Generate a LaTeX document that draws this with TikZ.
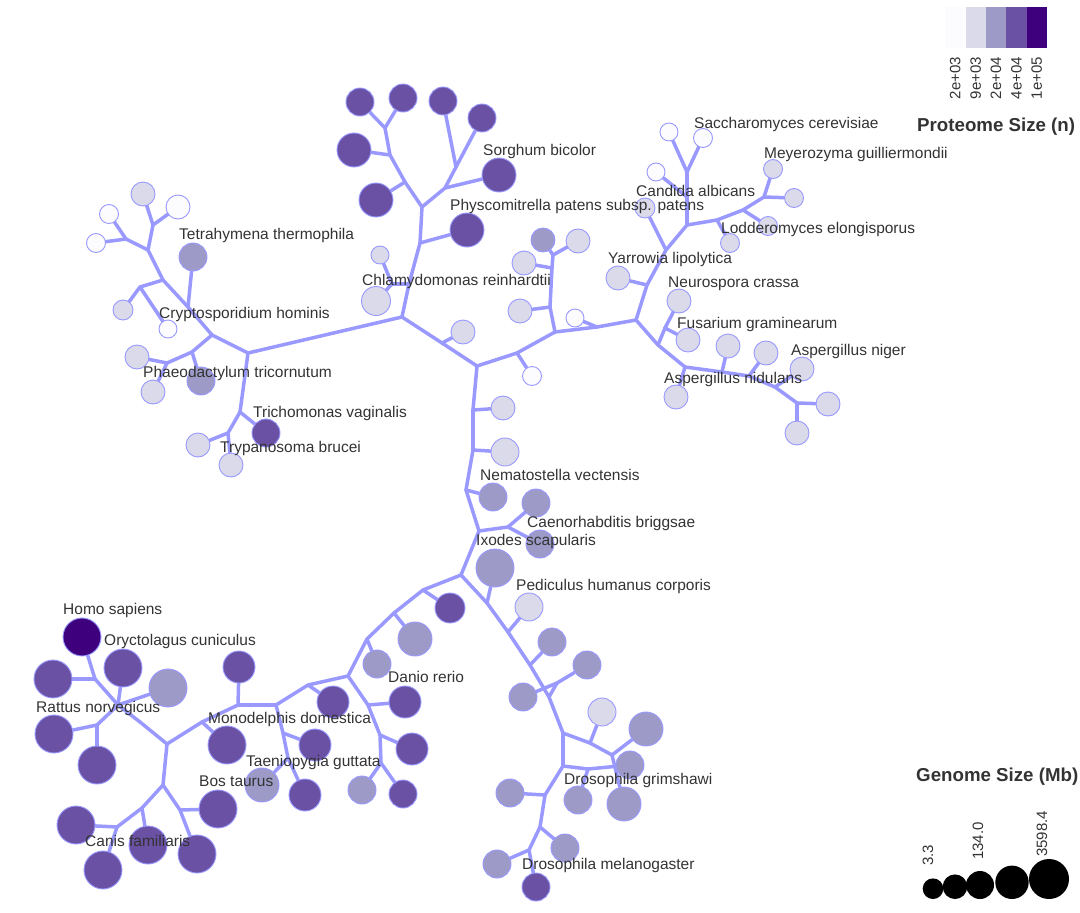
\documentclass[tikz,border=0pt]{standalone}
\usepackage{fontspec}
\setmainfont{Liberation Sans}
\usetikzlibrary{backgrounds}
\definecolor{ed}{HTML}{9999FF}
\definecolor{p1}{HTML}{FCFBFD}
\definecolor{p2}{HTML}{DADAEB}
\definecolor{p3}{HTML}{9E9AC8}
\definecolor{p4}{HTML}{6A51A3}
\definecolor{p5}{HTML}{3F007D}
\definecolor{tx}{HTML}{333333}
\tikzset{
  lf/.style={circle,draw=ed,line width=0.9pt,inner sep=0pt},
  br/.style={draw=ed,line width=3.5pt,line cap=round,line join=round},
  lab/.style={anchor=base west,inner sep=0pt,text=tx,font=\fontsize{15.5}{18}\selectfont},
  ttl/.style={anchor=base west,inner sep=0pt,text=tx,font=\bfseries\fontsize{18.7}{22}\selectfont},
  tick/.style={inner sep=0pt,text=tx,rotate=90,font=\fontsize{15}{18}\selectfont},
  cell/.style={anchor=north west,inner sep=0pt,minimum width=20.4pt,minimum height=41pt},
  gc/.style={circle,fill=black,inner sep=0pt}
}
\newcommand\leaf[4]{\node[lf,fill=#4,minimum size=#3pt] (#1) at (#2) {};}
\begin{document}
\begin{tikzpicture}[x=1pt,y=-1pt]
\useasboundingbox (0,0) rectangle (1080,913);
% ---------- internal coordinates ----------
\foreach \n/\p in {a1/{126,239},a2/{153,225},a3/{148,250},a4/{163,280},a5/{140,287},a6/{188,307},
  a7/{212,335},a8/{192,352},a9/{167,363},B/{248,353},b1/{240,412},b2/{228,433},
  C/{402,317},c9/{409,284},c8/{392,284},c1/{420,243},c2/{422,207},c3/{405,182},c4/{390,155},
  c6/{385,128},c5/{445,188},c7/{456,167},
  d0/{442,343},D/{477,366},d1/{517,353},d2/{555,332},d3/{550,307},d4b/{552,268},d4/{553,255},d5/{597,327},
  E/{636,320},e1/{647,285},e2/{666,250},e3/{687,225},e4/{687,197},e5/{687,172},f1/{717,220},f2/{743,210},
  f3/{764,197},e6/{658,345},e7/{665,328},g1/{685,367},g2/{722,372},g3/{749,376},g4/{775,387},g5/{797,403},
  t1/{473,410},t2/{473,450},t3/{466,490},t4/{479,531},t5/{508,527},G/{461,575},
  k1/{487,603},k2/{508,632},k3/{530,665},k4/{549,697},k5/{557,683},I/{563,733},i1/{590,743},i2/{612,755},
  J/{563,766},K/{588,769},j1/{545,795},j2/{540,827},j3/{529,850},
  h1/{423,590},h2/{394,613},h3/{367,639},M/{348,676},m1/{368,705},m2/{380,735},m4/{381,763},
  m3/{308,685},O/{276,705},o1/{283,733},o2/{288,758},P/{238,705},p1/{202,722},Q/{167,744},
  s0/{140,722},S/{118,705},T/{95,679},U/{97,725},V/{163,785},W/{142,808},X/{117,827},Y/{180,810}}
  {\coordinate (\n) at (\p);}
% ---------- leaves ----------
\leaf{tl1}{143,194}{24}{p2}
\leaf{tl2}{178,207}{24}{p1}
\leaf{tl3}{109,214}{19}{p1}
\leaf{tl4}{96,243}{19}{p1}
\leaf{tl5}{123,310}{20}{p2}
\leaf{tl6}{168,329}{18}{p1}
\leaf{tetra}{193,257}{28}{p3}
\leaf{tl8}{137,357}{24}{p2}
\leaf{tl9}{153,392}{24}{p2}
\leaf{phaeo}{201,381}{28}{p3}
\leaf{trich}{266,433}{28}{p4}
\leaf{tl12}{198,445}{24}{p2}
\leaf{trypa}{231,465}{24}{p2}
\leaf{physco}{467,230}{34}{p4}
\leaf{tm2}{376,200}{34}{p4}
\leaf{tm3}{354,150}{34}{p4}
\leaf{tm4}{360,102}{28}{p4}
\leaf{tm5}{403,98}{28}{p4}
\leaf{sorg}{499,175}{34}{p4}
\leaf{tm7}{443,101}{28}{p4}
\leaf{tm8}{482,118}{28}{p4}
\leaf{tm9}{380,255}{18}{p2}
\leaf{chlamy}{376,301}{29}{p2}
\leaf{mr1}{463,332}{24}{p2}
\leaf{mr2}{532,376}{19}{p1}
\leaf{mr3}{520,311}{24}{p2}
\leaf{mr4}{543,240}{24}{p3}
\leaf{mr5}{578,241}{24}{p2}
\leaf{mr6}{524,263}{24}{p2}
\leaf{mr7}{575,318}{18}{p1}
\leaf{yarrow}{618,278}{24}{p2}
\leaf{tr2}{645,208}{20}{p2}
\leaf{candida}{656,172}{18}{p1}
\leaf{tr4}{669,132}{18}{p1}
\leaf{tr5}{703,138}{19}{p1}
\leaf{tr6}{730,243}{19}{p2}
\leaf{lodd}{768,226}{19}{p2}
\leaf{meyer}{773,169}{19}{p2}
\leaf{tr9}{794,198}{19}{p2}
\leaf{neuro}{679,301}{24}{p2}
\leaf{fusar}{688,340}{24}{p2}
\leaf{nidul}{676,397}{24}{p2}
\leaf{as2}{728,346}{24}{p2}
\leaf{as3}{766,353}{24}{p2}
\leaf{niger}{802,369}{24}{p2}
\leaf{as5}{828,404}{24}{p2}
\leaf{as6}{797,433}{24}{p2}
\leaf{k01}{503,408}{24}{p2}
\leaf{k02}{505,452}{28}{p2}
\leaf{nemat}{493,497}{28}{p3}
\leaf{caeno}{536,503}{28}{p3}
\leaf{k05}{540,544}{28}{p3}
\leaf{ixodes}{495,568}{38}{p3}
\leaf{pedic}{529,607}{28}{p2}
\leaf{br1}{552,642}{28}{p3}
\leaf{br2}{523,697}{28}{p3}
\leaf{br3}{587,665}{28}{p3}
\leaf{br4}{602,712}{28}{p2}
\leaf{br5}{646,729}{34}{p3}
\leaf{br6}{624,804}{34}{p3}
\leaf{br7}{578,800}{28}{p3}
\leaf{grims}{630,765}{28}{p3}
\leaf{br9}{510,793}{28}{p3}
\leaf{br10}{565,848}{28}{p3}
\leaf{br11}{497,864}{28}{p3}
\leaf{melan}{536,887}{28}{p4}
\leaf{bl1}{450,608}{30}{p4}
\leaf{bl2}{415,639}{34}{p3}
\leaf{bl3}{377,664}{28}{p3}
\leaf{danio}{405,702}{32}{p4}
\leaf{bl5}{412,749}{32}{p4}
\leaf{bl6}{362,790}{28}{p3}
\leaf{bl7}{403,794}{28}{p4}
\leaf{bl8}{333,702}{32}{p4}
\leaf{bl9}{315,745}{32}{p4}
\leaf{taeni}{262,785}{34}{p3}
\leaf{bl11}{305,795}{32}{p4}
\leaf{bl12}{239,667}{32}{p4}
\leaf{monod}{227,745}{38}{p4}
\leaf{homo}{82,637}{38}{p5}
\leaf{oryct}{123,668}{38}{p4}
\leaf{bl16}{168,688}{38}{p3}
\leaf{bl17}{53,679}{38}{p4}
\leaf{rattus}{54,734}{38}{p4}
\leaf{bl19}{97,765}{38}{p4}
\leaf{canis}{148,845}{38}{p4}
\leaf{bl21}{76,825}{38}{p4}
\leaf{bl22}{103,870}{38}{p4}
\leaf{bos}{218,809}{38}{p4}
\leaf{bl24}{197,854}{38}{p4}
% ---------- branches ----------
\begin{pgfonlayer}{background}
\foreach \u/\v in {a1/tl3,a1/tl4,a1/a3,a2/tl1,a2/tl2,a2/a3,a3/a4,a4/a5,a5/tl5,a5/tl6,a4/a6,a6/tetra,a6/a7,
  a7/a8,a8/phaeo,a8/a9,a9/tl8,a9/tl9,a7/B,B/C,B/b1,b1/trich,b1/b2,b2/tl12,b2/trypa,
  C/c9,c9/c8,c8/tm9,c8/chlamy,c9/c1,c1/physco,c1/c2,c2/c3,c3/tm2,c3/c4,c4/tm3,c4/c6,c6/tm4,c6/tm5,
  c2/c5,c5/sorg,c5/c7,c7/tm7,c7/tm8,
  C/d0,d0/mr1,d0/D,D/d1,d1/mr2,d1/d2,d2/d3,d3/mr3,d3/d4b,d4b/mr6,d4b/d4,d4/mr4,d4/mr5,d2/d5,d5/mr7,d5/E,
  E/e1,e1/yarrow,e1/e2,e2/tr2,e2/e3,e3/e4,e4/candida,e4/e5,e5/tr4,e5/tr5,e3/f1,f1/tr6,f1/f2,f2/lodd,
  f2/f3,f3/meyer,f3/tr9,E/e6,e6/e7,e7/neuro,e7/fusar,e6/g1,g1/nidul,g1/g2,g2/as2,g2/g3,g3/as3,g3/g4,
  g4/niger,g4/g5,g5/as5,g5/as6,
  D/t1,t1/k01,t1/t2,t2/k02,t2/t3,t3/nemat,t3/t4,t4/t5,t5/caeno,t5/k05,t4/G,
  G/k1,k1/ixodes,k1/k2,k2/pedic,k2/k3,k3/br1,k3/k4,k4/k5,k5/br2,k5/br3,k4/I,I/i1,i1/br4,i1/i2,
  i2/br5,i2/br6,I/J,J/K,K/br7,K/grims,J/j1,j1/br9,j1/j2,j2/br10,j2/j3,j3/br11,j3/melan,
  G/h1,h1/bl1,h1/h2,h2/bl2,h2/h3,h3/bl3,h3/M,M/m1,m1/danio,m1/m2,m2/bl5,m2/m4,m4/bl6,m4/bl7,
  M/m3,m3/bl8,m3/O,O/o1,o1/bl9,o1/o2,o2/taeni,o2/bl11,O/P,P/bl12,P/p1,p1/monod,p1/Q,Q/s0,s0/S,
  S/T,T/homo,T/bl17,S/oryct,S/bl16,S/U,U/rattus,U/bl19,Q/V,V/W,W/canis,W/X,X/bl21,X/bl22,
  V/Y,Y/bos,Y/bl24}
  {\draw[br] (\u) -- (\v);}
\end{pgfonlayer}
% ---------- labels ----------
\foreach \x/\y/\t [count=\i] in {179/234/Tetrahymena thermophila,159/313/Cryptosporidium hominis,
  143/372/Phaeodactylum tricornutum,253/412/Trichomonas vaginalis,220/447/Trypanosoma brucei,
  483/150/Sorghum bicolor,450/205/Physcomitrella patens subsp. patens,362/280/Chlamydomonas reinhardtii,
  694/123/Saccharomyces cerevisiae,764/153/Meyerozyma guilliermondii,636/191/Candida albicans,
  721/228/Lodderomyces elongisporus,608/258/Yarrowia lipolytica,668/282/Neurospora crassa,
  677/323/Fusarium graminearum,791/350/Aspergillus niger,664/378/Aspergillus nidulans,
  480/475/Nematostella vectensis,527/522/Caenorhabditis briggsae,476/540/Ixodes scapularis,
  516/585/Pediculus humanus corporis,564/779/Drosophila grimshawi,522/864/Drosophila melanogaster,
  388/677/Danio rerio,63/609/Homo sapiens,104/640/Oryctolagus cuniculus,36/707/Rattus norvegicus,
  208/718/Monodelphis domestica,246/761/Taeniopygia guttata,199/781/Bos taurus,85/841/Canis familiaris}
  {\node[lab] (lab\i) at (\x,\y+5.5) {\t};}
% ---------- legend: proteome ----------
\foreach \c/\l [count=\i] in {p1/2e+03,p2/9e+03,p3/2e+04,p4/4e+04,p5/1e+05}{
  \node[cell,fill=\c] (cb\i) at ({945+20.4*(\i-1)},7) {};
  \node[tick,anchor=east] (cbl\i) at ({955.2+20.4*(\i-1)},57) {\l};
}
\node[ttl] (ptitle) at (917,131) {Proteome Size (n)};
% ---------- legend: genome ----------
\node[ttl] (gtitle) at (916,781) {Genome Size (Mb)};
\node[gc,minimum size=20.6pt] (g1c) at (933,888.7) {};
\node[gc,minimum size=24.6pt] (g2c) at (955,886.7) {};
\node[gc,minimum size=28pt] (g3c) at (980,885) {};
\node[gc,minimum size=33.4pt] (g4c) at (1012,882.3) {};
\node[gc,minimum size=40pt] (g5c) at (1049,879) {};
\node[tick,anchor=west] (gl1) at (928,866) {3.3};
\node[tick,anchor=west] (gl3) at (978,860) {134.0};
\node[tick,anchor=west] (gl5) at (1042,857) {3598.4};
\end{tikzpicture}
\end{document}
